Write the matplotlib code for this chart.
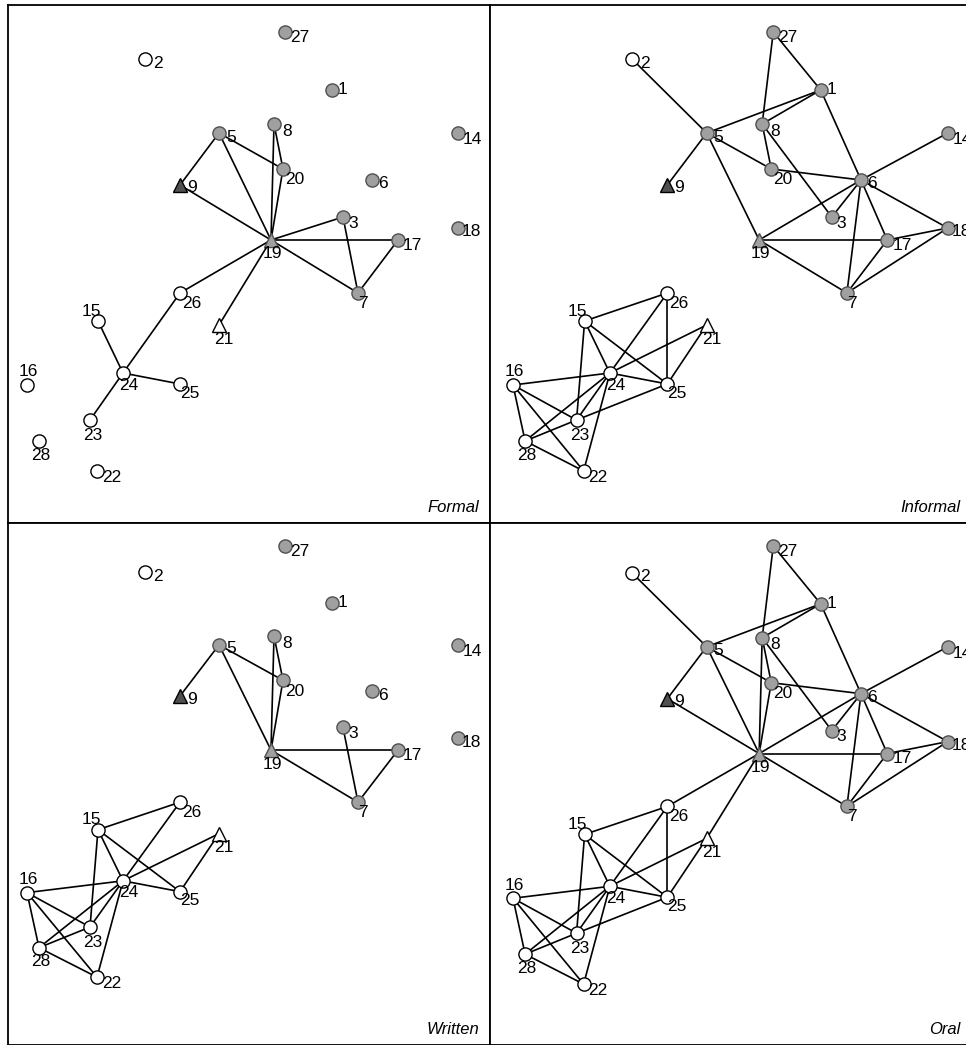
import matplotlib.pyplot as plt

plt.rcParams['font.family'] = ['Liberation Sans', 'DejaVu Sans']

# node layout (same for all four panels)
nodes = [1, 2, 3, 5, 6, 7, 8, 9, 14, 15, 16, 17, 18, 19, 20, 21, 22, 23, 24, 25, 26, 27, 28]
pos_x = [324, 137, 335, 211, 364, 350, 266, 172, 450, 90, 19, 390, 450, 263, 275, 211, 89, 82, 115, 172, 172, 277, 31]
pos_y = [433, 464, 306, 390, 343, 230, 399, 338, 390, 202, 138, 283, 295, 283, 354, 198, 52, 103, 150, 139, 230, 491, 82]
fill = ['gray', 'white', 'gray', 'gray', 'gray', 'gray', 'gray', 'dark', 'gray', 'white', 'white', 'gray',
        'gray', 'gray', 'gray', 'white', 'white', 'white', 'white', 'white', 'white', 'gray', 'white']
shape = ['o', 'o', 'o', 'o', 'o', 'o', 'o', '^', 'o', 'o', 'o', 'o', 'o', '^', 'o', '^', 'o', 'o', 'o', 'o', 'o', 'o', 'o']

cluster = [(26, 15), (26, 24), (26, 25), (15, 24), (15, 25), (15, 23), (21, 24), (21, 25), (16, 24),
           (24, 25), (16, 23), (16, 28), (16, 22), (24, 28), (24, 23), (24, 22), (23, 28), (23, 25), (28, 22)]

edges_formal = [(5, 9), (5, 19), (5, 20), (8, 19), (8, 20), (20, 19), (9, 19), (19, 3), (19, 17), (19, 7),
                (3, 7), (17, 7), (19, 26), (19, 21), (26, 24), (15, 24), (24, 25), (24, 23)]

edges_informal = [(2, 5), (5, 9), (5, 1), (5, 20), (5, 19), (27, 8), (27, 1), (1, 8), (1, 6), (8, 20),
                  (8, 3), (20, 6), (14, 6), (6, 19), (6, 3), (6, 17), (6, 7), (6, 18), (19, 17), (19, 7),
                  (17, 18), (17, 7), (18, 7)] + cluster

edges_written = [(5, 9), (5, 19), (5, 20), (8, 19), (8, 20), (20, 19), (19, 17), (19, 7), (3, 7), (17, 7),
                 (15, 26), (15, 24), (15, 23), (15, 25), (26, 24), (24, 21), (21, 25), (16, 24), (24, 25),
                 (16, 23), (16, 28), (16, 22), (24, 28), (24, 23), (24, 22), (23, 28), (28, 22)]

edges_oral = [(2, 5), (5, 9), (5, 1), (5, 20), (5, 19), (27, 8), (27, 1), (1, 8), (1, 6), (8, 20), (8, 3),
              (8, 19), (20, 19), (20, 6), (9, 19), (14, 6), (6, 19), (6, 3), (6, 17), (6, 7), (6, 18),
              (19, 17), (19, 7), (19, 26), (19, 21), (17, 18), (17, 7), (18, 7)] + cluster

# label offsets in pixels (dx, dy down, alignment)
label_off = {1: (6, 0, 'left'), 2: (8, 4, 'left'), 3: (5, 6, 'left'), 5: (7, 4, 'left'), 6: (6, 4, 'left'),
             7: (5, 10, 'center'), 8: (8, 7, 'left'), 9: (7, 3, 'left'), 14: (5, 7, 'left'),
             15: (-7, -10, 'center'), 16: (1, -13, 'center'), 17: (5, 5, 'left'), 18: (4, 4, 'left'),
             19: (1, 14, 'center'), 20: (2, 11, 'left'), 21: (5, 14, 'center'), 22: (5, 6, 'left'),
             23: (3, 15, 'center'), 24: (6, 12, 'center'), 25: (0, 9, 'left'), 26: (2, 10, 'left'),
             27: (5, 6, 'left'), 28: (2, 14, 'center')}

colors = {'gray': ('#a0a0a0', '#505050'), 'white': ('white', 'black'), 'dark': ('#505050', 'black')}

W, H = 966, 1045
fig = plt.figure(figsize=(W / 100, H / 100), dpi=100)

panels = [
    ('Formal', edges_formal, [8 / W, 522 / H, 482 / W, 518 / H], (0, 482), (0, 518)),
    ('Informal', edges_informal, [490 / W, 522 / H, 482 / W, 518 / H], (-3.8, 474), (0, 518)),
    ('Written', edges_written, [8 / W, 0, 482 / W, 522 / H], (0, 482), (-17, 514)),
    ('Oral', edges_oral, [490 / W, 0, 482 / W, 522 / H], (-3.8, 474), (-9, 514)),
]

idx = {n: i for i, n in enumerate(nodes)}

for name, edges, rect, xl, yl in panels:
    ax = fig.add_axes(rect)
    for a, b in edges:
        ax.plot([pos_x[idx[a]], pos_x[idx[b]]], [pos_y[idx[a]], pos_y[idx[b]]],
                color='black', lw=1.2, zorder=1, solid_capstyle='round')
    for i, n in enumerate(nodes):
        fc, ec = colors[fill[i]]
        ms = 9.5 if shape[i] == 'o' else 10
        ax.plot(pos_x[i], pos_y[i], marker=shape[i], ms=ms, mfc=fc, mec=ec, mew=1.0,
                linestyle='none', zorder=2)
        dx, dy, ha = label_off[n]
        ax.annotate(str(n), (pos_x[i], pos_y[i]), xytext=(dx, -dy), textcoords='offset pixels',
                    ha=ha, va='center', fontsize=12.5, zorder=3)
    ax.text(0.977, 0.03, name, transform=ax.transAxes, ha='right', va='center',
            fontsize=12, style='italic')
    ax.set_xlim(*xl)
    ax.set_ylim(*yl)
    ax.set_xticks([])
    ax.set_yticks([])
    for s in ax.spines.values():
        s.set_linewidth(1.3)

fig.savefig('out.png', dpi=100)
